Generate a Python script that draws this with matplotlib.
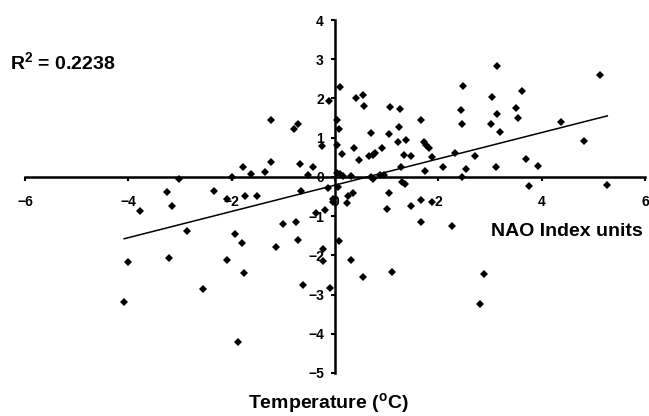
import matplotlib
matplotlib.use("Agg")
import matplotlib.pyplot as plt
import numpy as np

# temperature anomaly (x) vs NAO index (y)
temp = [-4.08, -4.00, -3.77, -3.26, -3.15, -3.21, -3.02, -2.86, -2.56, -2.35,
        -2.10, -2.10, -1.99, -1.94, -1.88, -1.80, -1.76, -1.79, -1.75, -1.62,
        -1.51, -1.36, -1.24, -1.24, -1.14, -1.00, -0.80, -0.71, -0.76, -0.71,
        -0.67, -0.66, -0.61, -0.52, -0.42, -0.37, -0.26, -0.19, -0.24, -0.24,
        -0.11, -0.13, -0.10, 0.04, 0.10, 0.15, 0.30, 0.06, -0.03, -0.03,
        0.26, 0.34, 0.23, 0.70, 0.73, 0.87, 0.94, 1.29, 1.35, 1.05,
        1.01, 1.47, 1.66, 1.88, 1.66, 2.26, 0.08, 0.31, 0.55, 1.10,
        2.88, 2.80, 3.76, 5.27, 0.10, 0.03, 0.08, 0.03, 0.13, 0.41,
        0.54, 0.56, 0.70, 0.36, 0.47, 0.65, 0.74, 0.78, 0.91, 1.07,
        1.25, 1.05, 1.23, 1.22, 1.38, 1.34, 1.48, 1.28, 1.67, 1.72,
        1.77, 1.81, 1.88, 1.74, 2.09, 2.33, 2.44, 2.47, 2.45, 2.46,
        2.54, 2.71, 3.03, 3.01, 3.13, 3.14, 3.20, 3.11, 3.51, 3.54,
        3.62, 3.69, 3.92, 4.38, 4.82, 5.13]
nao = [-3.19, -2.18, -0.87, -0.38, -0.74, -2.07, -0.05, -1.39, -2.86, -0.37,
       -0.56, -2.13, 0.00, -1.45, -4.21, -1.68, -2.46, 0.25, -0.48, 0.07,
       -0.48, 0.13, 0.39, 1.44, -1.80, -1.19, 1.22, 1.35, -1.16, -1.60,
       0.33, -0.37, -2.76, 0.04, 0.26, -0.91, 0.79, -0.84, -1.83, -2.15,
       1.93, -0.29, -2.83, 0.11, 0.07, 0.01, 0.03, -0.25, -0.56, -0.65,
       -0.48, -0.42, -0.67, -0.01, -0.05, 0.05, 0.06, -0.14, -0.17, -0.42,
       -0.81, -0.75, -0.58, -0.64, -1.15, -1.24, -1.63, -2.12, -2.54, -2.43,
       -2.48, -3.23, -0.24, -0.21, 2.28, 1.45, 1.22, 0.82, 0.58, 2.01,
       2.08, 1.80, 1.12, 0.74, 0.44, 0.52, 0.55, 0.61, 0.74, 1.78,
       1.72, 1.09, 1.28, 0.88, 0.94, 0.56, 0.54, 0.24, 1.44, 0.90,
       0.81, 0.74, 0.51, 0.14, 0.25, 0.61, 1.70, 2.31, 1.34, 0.00,
       0.19, 0.54, 2.03, 1.35, 2.82, 1.60, 1.14, 0.26, 1.75, 1.50,
       2.18, 0.46, 0.28, 1.40, 0.92, 2.61]

# trend line as drawn in the original
slope = 0.335
intercept = -0.21
r2_text = "0.2238"

x_ticks = [-6, -4, -2, 0, 2, 4, 6]
y_ticks = [-5, -4, -3, -2, -1, 0, 1, 2, 3, 4]

plt.rcParams['font.family'] = ['Liberation Sans', 'DejaVu Sans']
plt.rcParams['font.weight'] = 'bold'
plt.rcParams['mathtext.fontset'] = 'custom'
plt.rcParams['mathtext.bf'] = 'Liberation Sans:bold'
plt.rcParams['mathtext.rm'] = 'Liberation Sans:bold'
plt.rcParams['mathtext.default'] = 'bf'

fig = plt.figure(figsize=(6.49, 4.16), dpi=100)
ax = fig.add_axes([25 / 649, 1 - 373 / 416, 620 / 649, 353 / 416])

ax.plot(temp, nao, linestyle='none', marker='D', markersize=3.7,
        color='black', markeredgewidth=0)

xs = np.array([min(temp), max(temp)])
ax.plot(xs, slope * xs + intercept, color='black', linewidth=1.1)

ax.set_xlim(-6, 6)
ax.set_ylim(-5, 4)
ax.set_xticks(x_ticks)
ax.set_yticks(y_ticks)

ax.spines['left'].set_position(('data', 0))
ax.spines['bottom'].set_position(('data', 0))
ax.spines['right'].set_visible(False)
ax.spines['top'].set_visible(False)
ax.spines['left'].set_linewidth(1.8)
ax.spines['bottom'].set_linewidth(1.8)

ax.tick_params(axis='x', direction='out', length=3, width=1.5, pad=10,
               labelsize=10)
ax.tick_params(axis='y', direction='out', length=3, width=1.5, pad=5,
               labelsize=10)
for lab in ax.get_xticklabels() + ax.get_yticklabels():
    lab.set_fontweight('bold')

fig.text(10 / 649, 1 - 62 / 416, r'R$^{2}$ = ' + r2_text, fontsize=14,
         fontweight='bold', ha='left', va='center')
fig.text(643 / 649, 1 - 232 / 416, 'NAO Index units', fontsize=14,
         fontweight='bold', ha='right', va='center')
fig.text(328 / 649, 1 - 403 / 416, r'Temperature ($^{o}$C)', fontsize=14,
         fontweight='bold', ha='center', va='center')

fig.savefig('out.png', dpi=100)
